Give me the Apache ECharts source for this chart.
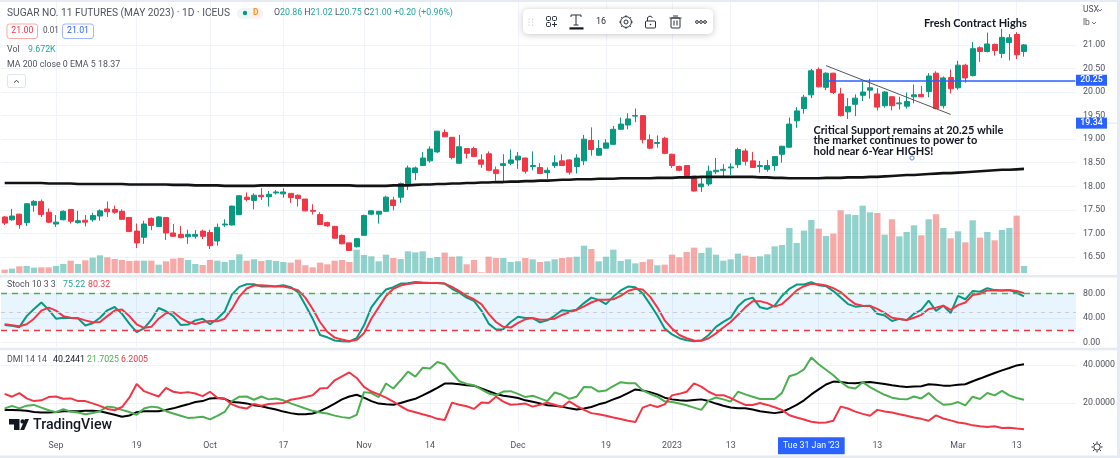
<!DOCTYPE html>
<html><head><meta charset="utf-8">
<style>html,body{margin:0;padding:0;background:#fff}#c{width:1120px;height:458px}</style>
<script src="https://cdn.jsdelivr.net/npm/echarts@6/dist/echarts.min.js"></script>
</head><body><div id="c"></div>
<script>
const opens=[17.35,17.29,17.41,17.23,17.60,17.68,17.45,17.20,17.29,17.51,
17.23,17.28,17.29,17.37,17.52,17.51,17.47,17.34,17.05,16.92,
17.32,17.15,17.34,17.01,16.98,16.93,16.94,17.05,17.02,16.84,
17.18,17.18,17.40,17.77,17.70,17.81,17.78,17.86,17.84,17.85,
17.81,17.73,17.49,17.40,17.23,17.15,16.96,16.80,16.72,16.96,
17.41,17.41,17.47,17.71,17.77,18.02,18.29,18.44,18.54,18.73,
19.14,19.04,18.49,18.80,18.80,18.56,18.69,18.35,18.44,18.49,
18.56,18.60,18.42,18.40,18.29,18.44,18.54,18.56,18.42,18.54,
18.97,18.66,18.81,18.89,19.21,19.30,19.49,19.50,18.99,18.91,
19.02,18.68,18.42,18.44,18.22,17.99,18.05,18.31,18.34,18.39,
18.46,18.75,18.54,18.42,18.36,18.44,18.68,18.83,19.39,19.65,
19.94,20.48,20.10,20.40,19.96,19.58,19.74,19.93,20.04,19.96,
19.71,19.90,19.75,19.70,19.90,19.95,20.01,20.40,19.71,20.31,
20.09,20.57,20.35,20.94,20.86,21.01,20.82,21.05,21.22,20.86];
const closes=[17.22,17.37,17.19,17.63,17.68,17.40,17.24,17.24,17.47,17.26,
17.27,17.24,17.38,17.48,17.46,17.45,17.30,17.04,16.80,17.20,
17.17,17.35,17.01,16.94,16.91,16.98,16.98,16.94,16.74,17.13,
17.20,17.58,17.80,17.72,17.81,17.78,17.83,17.88,17.88,17.76,
17.74,17.48,17.47,17.19,17.16,16.90,16.78,16.64,16.89,17.38,
17.48,17.47,17.77,17.59,18.06,18.39,18.39,18.60,18.79,19.17,
19.05,18.61,18.84,18.70,18.63,18.47,18.34,18.27,18.48,18.56,
18.64,18.32,18.44,18.27,18.34,18.50,18.44,18.30,18.60,19.00,
18.78,18.80,18.92,19.21,19.32,19.43,19.50,18.99,18.81,18.93,
18.70,18.44,18.34,18.20,17.90,18.05,18.32,18.34,18.36,18.41,
18.78,18.53,18.40,18.44,18.44,18.63,18.85,19.32,19.60,19.89,
20.45,20.11,20.40,19.99,19.50,19.69,19.87,20.00,20.09,19.68,
20.00,19.71,19.77,19.80,19.94,19.90,20.34,19.65,20.30,20.07,
20.57,20.30,20.92,20.86,21.02,20.88,21.16,21.15,20.79,21.00];
const highs=[17.37,17.52,17.42,17.64,17.71,17.72,17.53,17.39,17.49,17.51,
17.48,17.39,17.44,17.51,17.68,17.59,17.51,17.34,17.21,17.27,
17.34,17.37,17.34,17.20,17.16,17.08,17.07,17.08,17.08,17.21,
17.30,17.59,17.81,17.87,17.85,17.96,17.90,17.92,17.96,17.85,
17.83,17.73,17.62,17.45,17.25,17.16,16.98,16.80,16.90,17.40,
17.49,17.48,17.80,17.78,18.08,18.44,18.42,18.73,18.85,19.17,
19.21,19.04,19.09,18.80,18.84,18.68,18.74,18.42,18.68,18.78,
18.73,18.61,18.74,18.49,18.40,18.66,18.68,18.57,18.68,19.09,
19.25,18.98,19.00,19.28,19.46,19.55,19.65,19.51,19.10,19.08,
19.05,18.69,18.44,18.44,18.22,18.18,18.44,18.60,18.47,18.49,
18.82,18.80,18.73,18.54,18.56,18.64,18.86,19.46,19.68,19.94,
20.49,20.52,20.42,20.41,20.09,19.87,19.95,20.22,20.28,20.08,
20.02,19.91,19.90,19.99,20.16,20.13,20.40,20.44,20.33,20.48,
20.66,20.60,21.06,20.97,21.26,21.03,21.34,21.23,21.27,21.02];
const lows=[17.18,17.27,17.10,17.16,17.46,17.35,17.22,17.14,17.28,17.21,
17.21,17.15,17.25,17.27,17.35,17.42,17.30,17.03,16.69,16.78,
17.07,17.14,16.86,16.93,16.90,16.78,16.89,16.88,16.67,16.74,
17.14,17.17,17.39,17.68,17.51,17.71,17.57,17.83,17.76,17.65,
17.57,17.47,17.40,17.18,17.14,16.89,16.77,16.63,16.70,16.96,
17.39,17.21,17.47,17.49,17.65,17.92,18.13,18.44,18.50,18.71,
19.05,18.57,18.48,18.59,18.63,18.39,18.32,18.12,18.08,18.45,
18.37,18.27,18.34,18.26,18.16,18.39,18.44,18.25,18.27,18.45,
18.65,18.64,18.80,18.88,19.21,19.21,19.36,18.91,18.79,18.82,
18.68,18.39,18.32,18.19,17.89,17.88,18.01,18.26,18.20,18.24,
18.39,18.44,18.39,18.29,18.31,18.33,18.50,18.82,19.24,19.54,
19.87,20.10,20.04,19.96,19.48,19.43,19.49,19.81,19.86,19.61,
19.67,19.61,19.63,19.65,19.76,19.89,19.89,19.63,19.65,19.97,
20.05,20.20,20.33,20.64,20.84,20.77,20.72,20.67,20.70,20.75];
const movingAverage=[18.07,18.07,18.07,18.07,18.07,18.07,18.06,18.06,18.06,18.06,18.05,
18.05,18.05,18.05,18.05,18.05,18.05,18.04,18.04,18.04,18.04,
18.04,18.04,18.03,18.03,18.03,18.02,18.02,18.02,18.02,18.01,
18.01,18.01,18.01,18.01,18.02,18.02,18.02,18.02,18.02,18.02,
18.02,18.02,18.02,18.02,18.02,18.02,18.02,18.01,18.01,18.01,
18.01,18.01,18.02,18.02,18.02,18.03,18.04,18.04,18.05,18.05,
18.06,18.06,18.07,18.07,18.08,18.08,18.09,18.09,18.10,18.10,
18.11,18.11,18.12,18.12,18.13,18.14,18.14,18.15,18.15,18.15,
18.16,18.16,18.16,18.17,18.17,18.17,18.17,18.17,18.18,18.18,
18.18,18.19,18.19,18.19,18.20,18.20,18.20,18.20,18.20,18.20,
18.20,18.20,18.19,18.19,18.18,18.18,18.17,18.17,18.17,18.17,
18.17,18.18,18.18,18.18,18.19,18.19,18.19,18.20,18.20,18.21,
18.22,18.23,18.24,18.24,18.25,18.26,18.27,18.28,18.28,18.29,
18.30,18.31,18.32,18.33,18.34,18.35,18.35,18.36,18.37];
const volumes=[4.6,6.0,9.2,9.7,7.4,7.8,7.8,9.7,12.4,17.0,
12.4,17.5,21.2,24.4,21.6,19.3,17.9,16.6,17.0,17.0,
17.0,11.5,16.1,19.8,20.7,17.9,12.4,11.0,17.9,17.0,
15.2,17.9,25.8,17.0,18.9,16.6,17.9,16.6,15.2,14.3,
18.4,10.6,7.8,14.3,12.0,17.0,17.9,15.2,32.2,24.8,23.0,
16.1,25.3,20.7,19.3,29.9,28.5,29.9,20.7,22.1,28.1,
22.5,23.0,12.0,17.9,0.9,22.5,20.7,20.7,15.2,16.1,
20.7,18.9,15.2,16.1,18.9,20.7,21.6,22.5,37.7,33.1,
16.1,22.5,32.2,16.6,18.9,13.3,15.2,18.9,10.6,11.5,
25.3,21.6,29.0,35.0,27.6,35.0,25.3,17.0,18.9,26.7,23.9,
22.1,23.0,25.8,36.8,38.6,62.1,41.4,58.4,73.1,61.2,
51.1,54.3,86.5,81.0,80.0,92.9,83.7,82.8,52.9,74.1,
50.6,56.6,65.8,52.0,74.1,81.0,62.1,47.8,57.5,42.3,
72.7,48.8,56.6,45.1,59.3,62.1,79.1,9.7];
const stochK=[28.6,27.0,24.9,42.9,54.6,65.1,53.0,38.7,40.3,39.7,
39.2,27.5,31.3,40.3,52.4,57.7,46.6,30.7,16.9,22.8,
37.1,56.1,50.8,42.9,28.6,29.1,36.0,38.7,29.6,38.7,
50.3,78.4,90.6,94.8,94.8,91.1,91.1,91.6,93.2,90.1,
82.1,60.9,38.7,12.2,8.4,3.2,2.1,1.6,6.9,28.0,57.2,
73.1,86.3,90.0,95.9,96.4,98.5,97.5,96.9,96.9,
95.9,87.4,81.0,73.1,67.8,51.9,30.7,21.2,21.7,33.4,
41.8,39.7,39.7,32.8,36.0,43.4,52.4,51.4,53.5,64.1,
73.1,69.4,62.5,74.7,84.8,91.1,90.0,80.0,62.5,44.0,
22.8,13.2,6.9,3.7,2.1,3.2,12.2,25.4,33.4,40.3,58.8,69.4,
73.1,57.2,54.6,59.9,75.8,87.4,94.3,94.3,98.0,93.2,
91.6,83.7,73.1,62.5,58.3,59.3,59.9,46.6,44.0,35.0,
38.7,36.0,46.6,53.0,68.3,51.4,59.9,47.7,75.8,70.4,
83.7,82.6,88.5,85.3,84.8,85.3,81.0,75.22];
const stochD=[29.6,28.0,26.4,29.6,38.7,51.9,56.7,51.9,42.9,40.3,
39.7,36.0,32.8,33.3,42.9,51.9,53.5,42.9,29.6,23.8,
25.4,38.7,47.7,49.3,39.7,33.3,30.2,33.3,34.9,34.4,
38.7,54.6,74.7,87.9,92.7,93.2,92.2,91.1,91.1,88.5,
85.3,73.1,54.6,33.3,17.4,7.9,4.7,2.1,4.2,14.8,38.7,
57.2,75.8,87.4,92.7,95.4,97.0,97.0,97.0,97.0,95.9,
90.6,83.7,75.8,70.4,62.5,46.6,33.3,25.4,24.3,31.8,
37.6,39.7,37.1,37.6,38.7,45.0,49.3,53.0,58.8,65.1,
69.4,69.4,70.4,75.8,83.7,87.4,86.3,74.7,57.2,36.0,
22.8,12.2,6.9,3.2,2.6,6.9,14.8,24.3,33.3,45.0,57.2,
67.3,67.3,64.1,58.3,62.5,73.1,84.8,91.6,95.4,94.8,
92.7,88.5,82.1,71.5,62.5,59.9,59.3,54.6,48.2,40.3,
38.1,36.5,40.3,45.0,54.6,56.7,59.9,53.0,60.9,65.1,
77.3,79.4,84.8,84.8,84.8,85.3,83.7,80.32];
const adx=[16.4,16.4,16.2,15.9,15.3,15.0,15.0,15.3,15.7,15.7,
15.7,15.9,15.9,15.7,14.8,13.8,12.8,13.4,15.2,15.7,
15.7,15.7,16.4,17.2,18.3,19.3,20.5,21.0,22.4,22.6,
22.2,20.5,20.3,19.8,18.8,18.3,17.4,16.6,15.5,14.7,
14.1,14.1,14.5,15.7,17.6,19.7,21.9,23.4,24.3,22.8,21.0,
19.7,19.3,19.1,20.0,21.2,22.2,24.0,25.9,27.9,30.2,
30.2,29.8,29.3,29.1,27.6,26.2,24.7,23.8,23.3,22.6,
21.4,20.7,19.8,18.8,18.5,18.1,17.2,16.6,17.1,17.9,
19.3,20.3,21.9,23.3,25.2,27.1,26.6,25.7,24.5,22.8,
21.9,21.4,21.2,21.6,21.9,21.0,19.7,18.6,17.6,17.2,17.2,
16.6,15.7,15.2,14.7,15.3,17.1,19.0,21.4,24.5,27.1,
29.7,31.2,31.0,30.5,30.3,30.7,31.0,30.5,30.0,29.3,
28.8,28.4,28.6,28.8,29.8,29.5,29.1,29.1,29.5,29.8,
31.4,32.8,34.3,35.7,37.1,38.3,39.7,40.24];
const diPlus=[17.1,18.5,17.2,18.6,19.0,17.6,16.2,15.2,16.7,15.5,
15.0,14.1,14.8,15.7,18.1,17.6,16.4,15.3,13.8,17.1,
18.1,17.6,15.7,14.5,13.3,12.2,12.4,12.8,11.4,13.3,
15.3,21.0,23.3,23.4,21.7,23.4,21.9,22.4,21.4,19.8,
18.5,17.1,15.9,15.0,14.5,13.4,12.6,12.1,13.8,25.7,25.2,
23.1,30.2,27.6,31.9,36.4,33.8,38.4,38.1,41.5,40.3,
35.7,31.4,30.0,29.3,27.1,25.0,24.1,26.0,26.2,24.8,
23.1,23.8,22.4,21.0,25.5,24.3,22.2,23.3,28.4,28.3,
26.0,26.6,28.8,30.9,30.3,30.3,26.6,24.8,23.3,20.9,
20.5,19.7,18.8,17.6,16.4,21.4,22.9,21.9,20.7,25.9,24.5,
23.3,22.1,22.1,22.1,25.3,34.0,35.2,37.6,43.8,40.3,
37.4,34.5,31.0,28.3,27.6,30.9,28.3,26.2,24.3,22.8,
22.1,21.9,23.4,22.4,25.2,21.7,19.1,19.3,20.5,18.8,
23.3,22.1,25.2,24.0,26.4,24.0,22.6,21.70];
const diMinus=[24.8,23.3,25.2,22.4,21.0,21.4,23.1,23.4,22.2,22.4,
21.0,21.0,19.8,18.5,16.9,16.2,17.9,22.8,30.0,26.2,
24.8,23.4,27.9,25.9,25.2,25.7,25.0,23.6,25.9,22.8,
22.2,19.3,17.8,17.1,19.5,18.6,19.5,19.8,20.0,21.7,
22.4,23.1,24.1,27.6,27.8,31.9,34.0,36.0,33.1,28.4,26.0,
24.5,22.8,20.7,18.3,16.2,15.2,14.1,13.1,11.7,11.1,
20.2,19.1,18.3,16.9,20.2,20.0,23.3,20.7,19.1,19.3,
19.7,18.1,19.1,20.2,19.1,17.9,20.9,18.5,16.4,14.7,
14.1,13.3,12.4,11.6,10.7,10.0,17.6,19.0,17.9,19.3,
24.0,24.8,25.9,30.3,28.6,25.9,24.1,24.1,22.6,20.7,19.0,
19.0,20.0,19.0,17.8,16.4,13.6,12.4,11.4,10.2,9.7,
9.8,10.7,18.1,17.1,15.5,14.3,13.3,16.4,15.5,15.0,
14.1,13.3,12.4,11.7,10.7,13.5,11.9,10.9,9.8,9.3,
8.3,7.8,7.4,7.8,6.9,7.1,6.6,6.20];
const tickIndexes=[7,18,28,38,49,58,70,82,91,99,110,119,130,138];
const tickLabels=['Sep','19','Oct','17','Nov','14','Dec','19','2023','13',"Tue 31 Jan '23",'13','Mar','13'];
const gridIndexes=[7,18,28,38,49,58,70,82,91,99,111,119,130,138];
const priceTicks=[16.5,17,17.5,18,18.5,19,19.5,20,20.5,21];
const stochTicks=[0,40,80];
const dmiTicks=[20,40];
const categories=[];
for(let i=0;i<147;i++)categories.push(String(i));

const TEAL='#089981',RED='#f23645',TXT='#50535e',GRID='#f0f3fa',BAND='#e6eaf2';
const FONT='Roboto, sans-serif';
const AX=8.8;
const candles=opens.map((o,i)=>[o,closes[i],lows[i],highs[i]]);
const volBars=volumes.map((v,i)=>({value:v,itemStyle:{color:closes[i]>=opens[i]?'rgba(38,166,154,.5)':'rgba(239,83,80,.5)'}}));

const chart=echarts.init(document.getElementById('c'),null,{renderer:'canvas'});
const L=1,W=1078;
const grids=[{left:L,width:W,top:2,height:272},{left:L,width:W,top:278,height:69},{left:L,width:W,top:350,height:81.3}];
function xAxis(i,labels){return{type:'category',gridIndex:i,data:categories,boundaryGap:true,
  axisLine:{show:false},axisTick:{show:false,alignWithLabel:true},
  splitLine:{show:true,alignWithLabel:true,lineStyle:{color:GRID,width:1},interval:(idx)=>gridIndexes.includes(idx)},
  axisLabel:labels?{show:true,interval:(idx)=>tickIndexes.includes(idx),color:TXT,fontSize:AX,fontFamily:FONT,margin:10,hideOverlap:false,
    formatter:(v,idx)=>{const k=tickIndexes.indexOf(idx);if(k<0)return'';return idx===110?'{hl|'+tickLabels[k]+'}':tickLabels[k];},
    rich:{hl:{backgroundColor:'#2962ff',color:'#fff',fontSize:AX,fontFamily:FONT,padding:[4,5,4,5],lineHeight:9}}}:{show:false}};}
function yAxis(i,min,max,ticks,dec){return{type:'value',gridIndex:i,position:'right',min,max,scale:true,
  axisLine:{show:false},axisTick:{show:false,customValues:ticks},
  splitLine:{show:true,lineStyle:{color:GRID,width:1}},
  axisLabel:{show:true,customValues:ticks,color:TXT,fontSize:AX,fontFamily:FONT,margin:4,formatter:v=>Number(v).toFixed(dec)}};}
function line(name,data,color,x,y,width){return{name,type:'line',data,xAxisIndex:x,yAxisIndex:y,showSymbol:false,symbol:'none',silent:true,animation:false,
  lineStyle:{color,width},z:4};}

const stochSeries=line('%K',stochK,'#089981',1,2,2);
stochSeries.markArea={silent:true,itemStyle:{color:'rgba(33,150,243,.1)'},data:[[{yAxis:20},{yAxis:80}]]};
stochSeries.markLine={silent:true,symbol:'none',label:{show:false},data:[
  {yAxis:80,lineStyle:{color:'#4caf50',type:[6,5],width:1.3}},
  {yAxis:50,lineStyle:{color:'#c9ccd4',type:[4,4],width:1}},
  {yAxis:20,lineStyle:{color:'#f23645',type:[6,5],width:1.3}}]};

const candleSeries={name:'Price',type:'candlestick',data:candles,xAxisIndex:0,yAxisIndex:0,barWidth:5.6,silent:true,animation:false,z:3,
  itemStyle:{color:TEAL,color0:RED,borderColor:TEAL,borderColor0:RED,borderWidth:1},
  markLine:{silent:true,symbol:'none',label:{show:false},animation:false,data:[
    [{coord:[112,20.25],lineStyle:{color:'#2962ff',width:1.5,type:'solid'}},{coord:[146,20.25]}],
    [{coord:[112,20.56],lineStyle:{color:'#555',width:1,type:'solid'}},{coord:[129,19.525]}]]}};

chart.setOption({animation:false,backgroundColor:'#fff',
  grid:grids,
  xAxis:[xAxis(0,false),xAxis(1,false),xAxis(2,true)],
  yAxis:[yAxis(0,16.14,21.91,priceTicks,2),
    {type:'value',gridIndex:0,min:-1.4,max:374,show:false,splitLine:{show:false}},
    yAxis(1,-7.4,105,stochTicks,2),
    yAxis(2,5.18,47.76,dmiTicks,4)],
  series:[
    {name:'Vol',type:'bar',data:volBars,xAxisIndex:0,yAxisIndex:1,barWidth:6.3,silent:true,animation:false,z:2},
    candleSeries,
    line('MA 200',movingAverage,'#131313',0,0,2.6),
    stochSeries,
    line('%D',stochD,'#f23645',1,2,2),
    line('ADX',adx,'#000000',2,3,2),
    line('+DI',diPlus,'#4caf50',2,3,2),
    line('-DI',diMinus,'#f23645',2,3,2)
  ]
});

function t(x,y,text,o){o=o||{};return{type:'text',x,y,z:50,silent:true,style:{text,fill:o.c||TXT,font:(o.w||'400')+' '+(o.s||AX)+'px '+(o.f||FONT),textVerticalAlign:'middle',textAlign:o.a||'left',rich:o.rich}};}
function r(x,y,w,h,fill,o){o=o||{};return{type:'rect',z:o.z||49,silent:true,shape:{x,y,width:w,height:h,r:o.r||0},style:{fill,stroke:o.st,lineWidth:o.lw||1,shadowBlur:o.sb||0,shadowColor:o.sc,shadowOffsetY:o.sy||0}};}
function sl(x1,y1,x2,y2,c,lw){return{type:'line',z:52,silent:true,shape:{x1,y1,x2,y2},style:{stroke:c||'#2a2e39',lineWidth:lw||1}};}
function circ(cx,cy,rad,o){o=o||{};return{type:'circle',z:52,silent:true,shape:{cx,cy,r:rad},style:{fill:o.f||'none',stroke:o.st||'none',lineWidth:o.lw||1}};}

const tag=p=>chart.convertToPixel({yAxisIndex:0},p);
const ANN={c:'#131722',f:'Lato, sans-serif',s:11,w:'700'};
const g=[
  r(1076,0,4,458,'#fff',{z:40}),
  r(0,0,1120,2,BAND),r(0,275,1118,2.5,BAND),r(0,347.7,1118,2.5,BAND),r(0,455.5,1120,3,BAND),r(1117,0,3,458,BAND),
  // header
  t(7,13,'SUGAR NO. 11 FUTURES (MAY 2023) · 1D · ICEUS',{s:10.2}),
  r(237,8,26,11,'#eef7f5',{r:5.5}),r(250,8,13,11,'#fdf0ee',{r:5.5}),
  circ(245,13,2.2,{f:TEAL}),t(253,13,'D',{c:'#f7941d',s:8.5,w:'700'}),
  t(274,13,'{g|O}{v|20.86} {g|H}{v|21.02} {g|L}{v|20.75} {g|C}{v|21.00} {v|+0.20 (+0.96%)}',{rich:{g:{fill:TXT,fontSize:AX,fontFamily:'Roboto'},v:{fill:'#26a69a',fontSize:AX,fontFamily:'Roboto'}}}),
  r(7,24,30.5,14.5,'#fff',{st:'#f7a9a7',r:2.5}),t(22.3,31,'21.00',{c:'#f23645',a:'center'}),
  t(43,31,'0.01',{s:8.2}),
  r(62.5,24,31,14.5,'#fff',{st:'#9db7fb',r:2.5}),t(78,31,'21.01',{c:'#2962ff',a:'center'}),
  t(7,49.5,'Vol'),t(28,49.5,'9.672K',{c:'#26a69a'}),
  t(7,65,'MA 200 close 0 EMA 5'),t(98,65,'18.37'),
  r(7.5,74.5,18,13,'#fff',{st:'#e0e3eb',r:2}),
  sl(14,82.5,16.5,80.5,'#2a2e39',.9),sl(16.5,80.5,19,82.5,'#2a2e39',.9),
  // toolbar
  r(523,9,190,25,'#fff',{r:5,sb:7,sc:'rgba(0,0,0,.22)',sy:1,z:49}),
  circ(529,19,.6,{f:'#b2b5be'}),circ(532.5,19,.6,{f:'#b2b5be'}),circ(529,22,.6,{f:'#b2b5be'}),circ(532.5,22,.6,{f:'#b2b5be'}),circ(529,25,.6,{f:'#b2b5be'}),circ(532.5,25,.6,{f:'#b2b5be'}),
  r(546.5,16.5,4,4,'none',{st:'#2a2e39',z:52,r:1}),r(552.5,16.5,4,4,'none',{st:'#2a2e39',z:52,r:1}),r(546.5,22.5,4,4,'none',{st:'#2a2e39',z:52,r:1}),sl(552,24.5,557,24.5),sl(554.5,22,554.5,27),
  sl(571,15,581,15),sl(576,15,576,25),sl(571,15,571,17),sl(581,15,581,17),sl(573.5,25,578.5,25),
  r(569.5,27.3,14,2.2,'#131722',{z:52}),
  t(601,22,'16',{a:'center',s:9,c:'#2a2e39'}),
  circ(626,22,5.4,{st:'#2a2e39'}),circ(626,22,2,{st:'#2a2e39'}),
  sl(626,15.2,626,16.8),sl(626,27.2,626,28.8),sl(619.2,22,620.8,22),sl(631.2,22,632.8,22),sl(621.2,17.2,622.3,18.3),sl(629.7,25.7,630.8,26.8),sl(630.8,17.2,629.7,18.3),sl(621.2,26.8,622.3,25.7),
  r(645.5,21,10,7,'none',{st:'#2a2e39',z:52,r:1}),{type:'polyline',z:52,silent:true,shape:{points:[[647.5,21],[647.5,17.5],[650,16],[652.5,17.5]]},style:{stroke:'#2a2e39',fill:'none'}},circ(650.5,24.5,.8,{f:'#2a2e39'}),
  r(671,18,9,10,'none',{st:'#2a2e39',z:52,r:1}),sl(669.5,18,681.5,18),sl(673,16,678,16),sl(674,20.5,674,25.5),sl(677,20.5,677,25.5),
  circ(697,22,1.4,{st:'#2a2e39'}),circ(701,22,1.4,{st:'#2a2e39'}),circ(705,22,1.4,{st:'#2a2e39'}),
  // scale header
  t(1083,10,'USX',{s:8.5}),sl(1098,9,1100,11,TXT,.8),sl(1100,11,1102,9,TXT,.8),
  t(1083,23,'lb',{s:8.5}),sl(1092,22,1094,24,TXT,.8),sl(1094,24,1096,22,TXT,.8),
  // annotations
  t(924,23,'Fresh Contract Highs',ANN),
  t(813.5,130,'Critical Support remains at 20.25 while',ANN),
  t(813.5,140.7,'the market continues to power to',ANN),
  t(813.5,151,'hold near 6-Year HIGHS!',ANN),
  circ(912,158,2.1,{st:'#5b86f0',f:'#fff'}),
  // pane legends
  t(7,284.5,'Stoch 10 3 3'),t(63,284.5,'75.22',{c:'#26a69a'}),t(88,284.5,'80.32',{c:'#f23645'}),
  t(7,360,'DMI 14 14'),t(53,360,'40.2441',{c:'#131722'}),t(87,360,'21.7025',{c:'#4caf50'}),t(121,360,'6.2005',{c:'#f23645'}),
  // price tags
  r(1076,tag(20.25)-5.5,31,11,'#2962ff'),t(1091.5,tag(20.25),'20.25',{c:'#fff',a:'center',w:'500'}),
  r(1076,tag(19.34)-5.5,31,11,'#2962ff'),t(1091.5,tag(19.34),'19.34',{c:'#fff',a:'center',w:'500'}),
  sl(1107,tag(19.34),1117,tag(19.34),'#e3e8f5',1),
  // TradingView mark
  {type:'polygon',z:52,silent:true,shape:{points:[[9,419],[19.5,419],[19.5,430],[14,430],[14,424.5],[9,424.5]]},style:{fill:'#131722'}},
  circ(22.6,421.4,2.2,{f:'#131722'}),
  {type:'polygon',z:52,silent:true,shape:{points:[[25,419],[29,419],[24.2,430],[20.2,430]]},style:{fill:'#131722'}},
  t(33,425,'TradingView',{c:'#131722',s:14.2,w:'500'}),
  // settings sun
  circ(1097,447,3.2,{st:'#2a2e39',lw:1}),
  sl(1097,441.5,1097,443),sl(1097,451,1097,452.5),sl(1091.5,447,1093,447),sl(1101,447,1102.5,447),sl(1093,443,1094.2,444.2),sl(1099.8,449.8,1101,451),sl(1101,443,1099.8,444.2),sl(1093,451,1094.2,449.8)
];
chart.setOption({graphic:{elements:g}});
</script></body></html>
